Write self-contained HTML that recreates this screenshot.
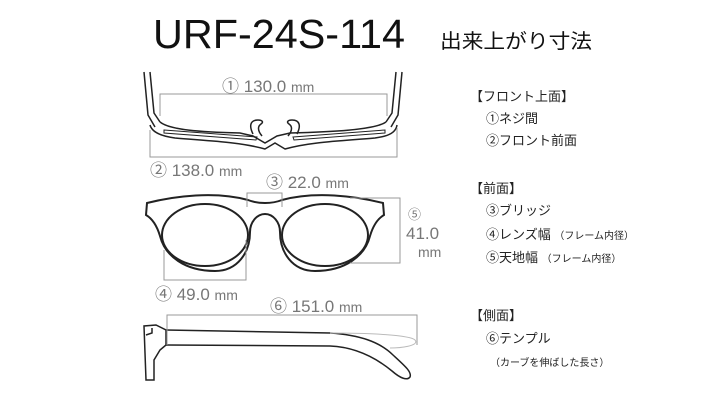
<!DOCTYPE html>
<html><head><meta charset="utf-8"><style>
html,body{margin:0;padding:0;background:#fff;}
body{width:714px;height:400px;overflow:hidden;}
svg text{font-family:"Liberation Sans","Noto Sans CJK JP",sans-serif;}
</style></head><body>
<svg width="714" height="400" viewBox="0 0 714 400" xmlns="http://www.w3.org/2000/svg">
<text x="153" y="48" font-size="41" fill="#111" textLength="252" lengthAdjust="spacingAndGlyphs">URF-24S-114</text>
<text x="440" y="48" font-size="20" fill="#111" textLength="152" lengthAdjust="spacingAndGlyphs">出来上がり寸法</text>

<!-- top view -->
<g fill="none" stroke="#222" stroke-width="1.5">
<path d="M144,72 L148,115 L155,127"/>
<path d="M150,72 L154,113 L160,122"/>
<path d="M402,72 L398,115 L391,127"/>
<path d="M396,72 L392,113 L386,122"/>
<path d="M150,125 C152,132 160,136 175,138 C210,141 240,142 265,149 L275,143 L285,149 C310,142 340,141 375,138 C390,136 396,132 397,125"/>
<path d="M160,122 C170,130 200,132 240,133 L253,136 L265,143 L277,136 L290,133 C330,132 375,130 386,122"/>
<path d="M164,130 L257,137 L256,140 L164,133 Z" stroke-width="1"/>
<path d="M293,137 L385,130 L385,133 L294,140 Z" stroke-width="1"/>
<path d="M253,134 C249,126 250,120 258,120 C262,120 264,122 261,124 C258,126 257,130 262,136"/>
<path d="M297,134 C301,126 300,120 292,120 C288,120 286,122 289,124 C292,126 293,130 288,136"/>
</g>
<g fill="none" stroke="#999" stroke-width="1">
<path d="M160,116 L160,94 L387,94 L387,116"/>
<path d="M150,130 L150,157 L397,157 L397,128"/>
</g>
<text x="222" y="92" font-size="17" fill="#777">① 130.0 <tspan font-size="14">mm</tspan></text>
<text x="150" y="176" font-size="17" fill="#777">② 138.0 <tspan font-size="14">mm</tspan></text>

<!-- front view -->
<path d="M147,203 C175,196 215,191 248,200 C258,204 272,204 282,200 C315,191 355,196 383,203 L384,215 C377,219 373,226 370,236 C365,256 345,271 315,271 C292,271 280,252 280,232 C280,222 273,214 265,214 C257,214 250,222 250,232 C250,252 238,271 215,271 C185,271 165,256 160,236 C157,226 153,219 146,215 Z" fill="none" stroke="#222" stroke-width="2"/>
<ellipse cx="205" cy="235" rx="43" ry="31" fill="none" stroke="#222" stroke-width="2"/>
<ellipse cx="325" cy="235" rx="43" ry="31" fill="none" stroke="#222" stroke-width="2"/>
<g fill="none" stroke="#999" stroke-width="1">
<path d="M247,207 L247,193 L282,193 L282,207"/>
<path d="M350,198 L400,198 L400,263 L350,263"/>
<path d="M164,250 L164,280 L246,280 L246,240"/>
</g>
<text x="266" y="188" font-size="17" fill="#777">③ 22.0 <tspan font-size="14">mm</tspan></text>
<text x="408" y="219" font-size="13" fill="#777">⑤</text>
<text x="406" y="239" font-size="17" fill="#777">41.0</text>
<text x="418" y="257" font-size="14" fill="#777">mm</text>
<text x="155" y="300" font-size="17" fill="#777">④ 49.0 <tspan font-size="14">mm</tspan></text>

<!-- side view -->
<g fill="none" stroke="#222" stroke-width="1.5">
<path d="M144,326 L146,380 L154,380 L154,360 L160,350 L166,345 L166,330 L156,325 Z"/>
<path d="M146,335 L152,333 L152,328"/>
<path d="M166,330 L330,333 C360,335 380,342 393,355 C405,366 412,372 410,377 C407,381 400,378 392,371 C375,357 355,347 330,346 L166,345"/>
</g>
<path d="M330,333 C370,333 410,335 415,340 C420,346 400,348 390,348" fill="none" stroke="#bbb" stroke-width="1"/>
<path d="M167,345 L167,315 L417,315 L417,345" fill="none" stroke="#999" stroke-width="1"/>
<text x="270" y="312" font-size="17" fill="#777">⑥ 151.0 <tspan font-size="14">mm</tspan></text>

<!-- legend -->
<g fill="#222" font-size="13">
<text x="470" y="101">【フロント上面】</text>
<text x="486" y="123">①ネジ間</text>
<text x="486" y="145">②フロント前面</text>
<text x="470" y="193">【前面】</text>
<text x="486" y="215">③ブリッジ</text>
<text x="486" y="239">④レンズ幅 <tspan font-size="10">（フレーム内径）</tspan></text>
<text x="486" y="262">⑤天地幅 <tspan font-size="10">（フレーム内径）</tspan></text>
<text x="470" y="320">【側面】</text>
<text x="486" y="343">⑥テンプル</text>
<text x="490" y="366" font-size="10">（カーブを伸ばした長さ）</text>
</g>
</svg>
</body></html>
